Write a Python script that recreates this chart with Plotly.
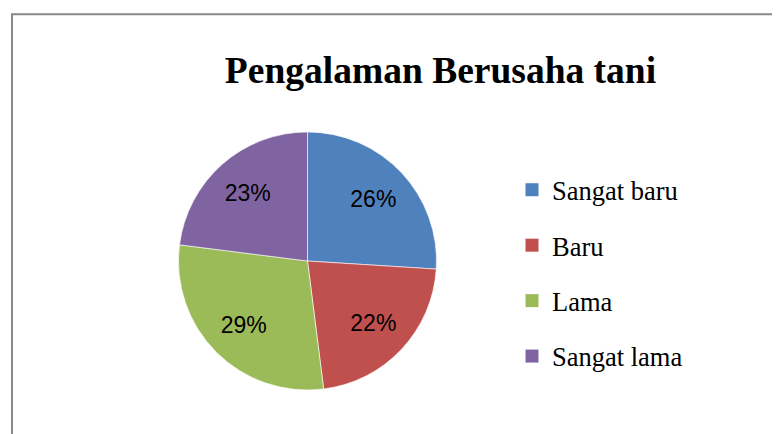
import plotly.graph_objects as go

categories = ["Sangat baru", "Baru", "Lama", "Sangat lama"]
values = [26, 22, 29, 23]
colors = ["#4F81BD", "#C0504D", "#9BBB59", "#8064A2"]
title_text = "Pengalaman Berusaha tani"

# page has an 8px body margin; figure coordinates are page coordinates minus 8
OFF = 8
W, H = 772, 426
cx, cy, r = 307.5 - OFF, 261 - OFF, 129
dom = dict(x=[(cx - r) / W, (cx + r) / W], y=[1 - (cy + r) / H, 1 - (cy - r) / H])

fig = go.Figure()
# full pie (fills)
fig.add_trace(go.Pie(
    labels=categories, values=values, sort=False, direction="clockwise", rotation=0,
    marker=dict(colors=colors, line=dict(color="rgba(255,255,255,0.6)", width=1)),
    textinfo="none", showlegend=False, hoverinfo="label+percent", domain=dom,
))
# transparent ring on top carrying the percentage labels (pushes labels outward)
fig.add_trace(go.Pie(
    labels=categories, values=values, sort=False, direction="clockwise", rotation=0, hole=0.4,
    marker=dict(colors=["rgba(0,0,0,0)"] * len(values), line=dict(width=0)),
    textposition="inside", insidetextorientation="horizontal",
    texttemplate="%{percent:.0%}",
    textfont=dict(family="Liberation Sans", size=23, color="black"),
    showlegend=False, hoverinfo="skip", domain=dom,
))
for i, (c, col) in enumerate(zip(categories, colors)):
    fig.add_trace(go.Scatter(
        x=[None], y=[None], mode="markers", name=c, legendgroup=f"g{i}",
        marker=dict(symbol="square", size=13, color=col), showlegend=True,
    ))

fig.update_layout(
    width=W, height=H, margin=dict(l=0, r=0, t=0, b=0),
    paper_bgcolor="white", plot_bgcolor="white",
    xaxis=dict(visible=False), yaxis=dict(visible=False),
    title=dict(text=f"<b>{title_text}</b>", x=(440.5 - OFF) / W, xanchor="center",
               y=1 - (70 - OFF) / H, yanchor="middle",
               font=dict(family="Liberation Serif", size=37.5, color="black")),
    legend=dict(x=(512 - OFF) / W, xanchor="left", y=1 - (166 - OFF) / H, yanchor="top",
                font=dict(family="Liberation Serif", size=26.5, color="black"),
                tracegroupgap=18, itemsizing="trace", bgcolor="rgba(0,0,0,0)"),
    shapes=[dict(type="rect", xref="paper", yref="paper", x0=(12 - OFF) / W, x1=1.1,
                 y0=-0.1, y1=1 - (14.3 - OFF) / H,
                 line=dict(color="#888888", width=2))],
)
fig.write_html("out.html")
